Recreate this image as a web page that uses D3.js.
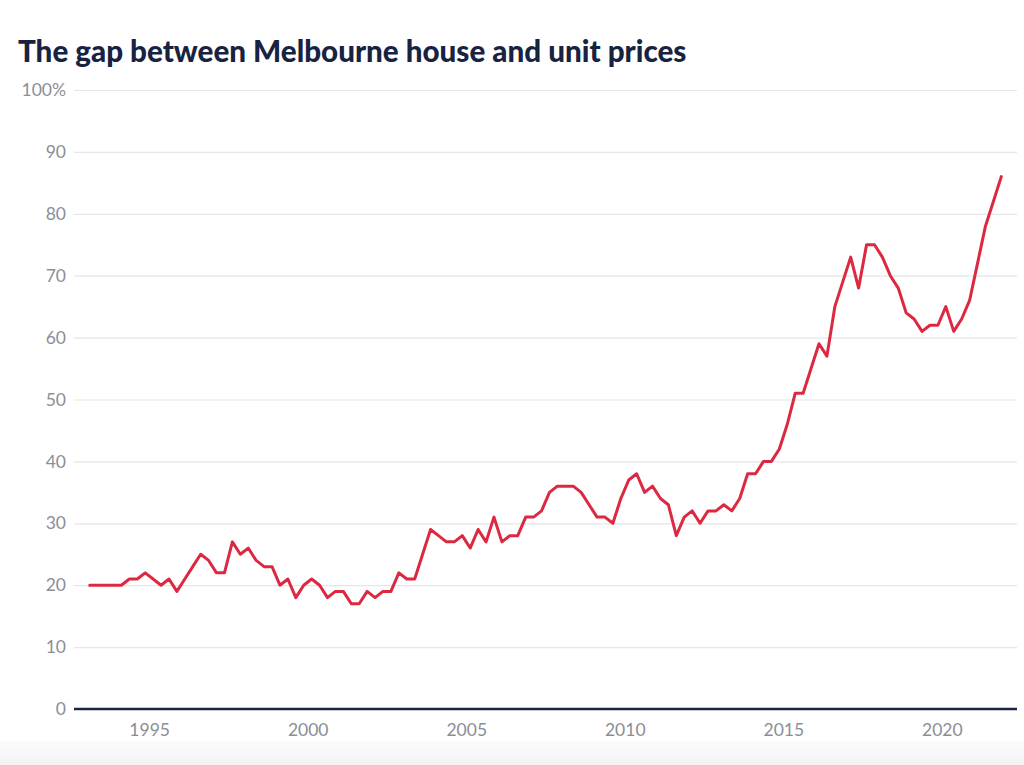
<!DOCTYPE html>
<html>
<head>
<meta charset="utf-8">
<script src="https://cdn.jsdelivr.net/npm/d3@7"></script>
<style>
  html, body { margin: 0; padding: 0; background: #ffffff; }
  svg { display: block; }
</style>
</head>
<body>
<svg id="chart" width="1024" height="765"></svg>
<script>
// ---- Data ----
const title = "The gap between Melbourne house and unit prices";
const years = [1993,1994,1995,1996,1997,1998,1999,2000,2001,2002,2003,2004,2005,2006,2007,
               2008,2009,2010,2011,2012,2013,2014,2015,2016,2017,2018,2019,2020,2021];
const quarters = ["Q1","Q2","Q3","Q4"];
// Gap (%) between house and unit prices, quarterly, 1993 Q1 – 2021 Q4
const gapValues = [
  20,20,20,20, 20,21,21,22, 21,20,21,19, 21,23,25,24, 22,22,27,25,
  26,24,23,23, 20,21,18,20, 21,20,18,19, 19,17,17,19, 18,19,19,22,
  21,21,25,29, 28,27,27,28, 26,29,27,31, 27,28,28,31, 31,32,35,36,
  36,36,35,33, 31,31,30,34, 37,38,35,36, 34,33,28,31, 32,30,32,32,
  33,32,34,38, 38,40,40,42, 46,51,51,55, 59,57,65,69, 73,68,75,75,
  73,70,68,64, 63,61,62,62, 65,61,63,66, 72,78,82,86
];
const xTicks = [1995, 2000, 2005, 2010, 2015, 2020];
const yTicks = [0, 10, 20, 30, 40, 50, 60, 70, 80, 90, 100];

// Build table: each quarter plotted at its mid-point
const data = [];
years.forEach((yr, yi) => quarters.forEach((q, qi) => {
  const v = gapValues[yi * 4 + qi];
  if (v !== undefined) data.push({ t: yr + qi * 0.25 + 0.125, label: yr + " " + q, value: v });
}));

// ---- Layout ----
const svg = d3.select("#chart");
const W = 1024, H = 765;
const mLeft = 74, mRight = 1017, mTop = 90, mBottom = 709;

const grad = svg.append("defs").append("linearGradient")
  .attr("id", "foot").attr("x1", 0).attr("x2", 0).attr("y1", 0).attr("y2", 1);
grad.append("stop").attr("offset", "0%").attr("stop-color", "#fbfbfc");
grad.append("stop").attr("offset", "100%").attr("stop-color", "#f3f3f4");
svg.append("rect").attr("x", 0).attr("y", 741).attr("width", W).attr("height", H - 741)
  .attr("fill", "url(#foot)");

const x = d3.scaleLinear().domain([1992.63, 2022.37]).range([mLeft, mRight]);
const y = d3.scaleLinear().domain([0, 100]).range([mBottom, mTop]);

// Title
svg.append("text")
  .attr("x", 18).attr("y", 62)
  .attr("font-family", "Lato, 'Open Sans', sans-serif")
  .attr("font-weight", 900)
  .attr("font-size", 29.6)
  .attr("fill", "#172341")
  .text(title);

// Y axis gridlines + labels
const yAxis = d3.axisLeft(y).tickValues(yTicks)
  .tickSize(-(mRight - mLeft))
  .tickPadding(8)
  .tickFormat(d => d === 100 ? "100%" : d);
const yg = svg.append("g").attr("transform", `translate(${mLeft},0)`).call(yAxis);
yg.select(".domain").remove();
yg.selectAll(".tick line").attr("stroke", "#e6e6e8").attr("stroke-width", 1.2);
yg.selectAll(".tick text")
  .attr("font-family", "Lato, sans-serif")
  .attr("font-size", 17.5)
  .attr("fill", "#8b8e97");

// X axis
const xAxis = d3.axisBottom(x).tickValues(xTicks).tickSize(0).tickPadding(15)
  .tickFormat(d3.format("d"));
const xg = svg.append("g").attr("transform", `translate(0,${mBottom})`).call(xAxis);
xg.select(".domain").remove();
xg.selectAll(".tick text")
  .attr("font-family", "Lato, sans-serif")
  .attr("font-size", 17.5)
  .attr("fill", "#8b8e97");

// Baseline
svg.append("line")
  .attr("x1", mLeft).attr("x2", mRight)
  .attr("y1", y(0)).attr("y2", y(0))
  .attr("stroke", "#1b2542").attr("stroke-width", 2.5);

// Line
const line = d3.line().x(d => x(d.t)).y(d => y(d.value));
svg.append("path")
  .datum(data)
  .attr("d", line)
  .attr("fill", "none")
  .attr("stroke", "#dc2941")
  .attr("stroke-width", 3)
  .attr("stroke-linejoin", "round")
  .attr("stroke-linecap", "round");
</script>
</body>
</html>
